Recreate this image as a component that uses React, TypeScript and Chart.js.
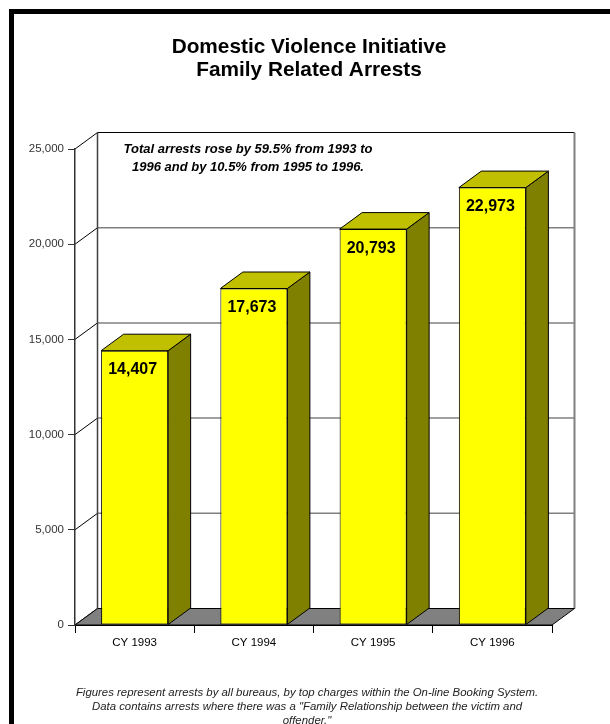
import React, { useEffect, useRef } from "react";
import { Chart, registerables } from "chart.js";

Chart.register(...registerables);

const categories = ["CY 1993", "CY 1994", "CY 1995", "CY 1996"];
const arrests = [14407, 17673, 20793, 22973];
const yTickValues = [0, 5000, 10000, 15000, 20000, 25000];
const titleLines = ["Domestic Violence Initiative", "Family Related Arrests"];
const noteLines = [
  "Total arrests rose by 59.5% from 1993 to",
  "1996 and by 10.5% from 1995 to 1996.",
];
const footnoteLines = [
  "Figures represent arrests by all bureaus, by top charges within the On-line Booking System.",
  "Data contains arrests where there was a \"Family Relationship between the victim and",
  "offender.\"",
];

const FONT = "'Liberation Sans', Arial, Helvetica, sans-serif";
const DX = 22.5;
const DY = -16.5;

const fmt = (v: number) => v.toLocaleString("en-US");

const threeD = {
  id: "threeD",
  beforeDraw(chart: any) {
    const ctx = chart.ctx;
    const { left, right, top, bottom } = chart.chartArea;
    const ys = chart.scales.y;
    ctx.save();
    ctx.fillStyle = "#ffffff";
    ctx.fillRect(0, 0, chart.width, chart.height);
    // outer frame
    ctx.fillStyle = "#000";
    ctx.fillRect(9, 9, 5, chart.height);
    ctx.fillRect(9, 9, chart.width, 5);

    // back wall grid lines and side-wall diagonals
    yTickValues.forEach((v) => {
      const yf = ys.getPixelForValue(v);
      const isTop = v === yTickValues[yTickValues.length - 1];
      if (v !== 0) {
        ctx.beginPath();
        ctx.moveTo(left + DX, yf + DY);
        ctx.lineTo(right + DX, yf + DY);
        ctx.strokeStyle = isTop ? "#000" : "#808080";
        ctx.lineWidth = isTop ? 1 : 1.5;
        ctx.stroke();
      }
      ctx.beginPath();
      ctx.moveTo(left, yf);
      ctx.lineTo(left + DX, yf + DY);
      ctx.strokeStyle = "#000";
      ctx.lineWidth = 1;
      ctx.stroke();
    });
    // back-left vertical
    ctx.beginPath();
    ctx.moveTo(left + DX, top + DY);
    ctx.lineTo(left + DX, bottom + DY);
    ctx.strokeStyle = "#404040";
    ctx.lineWidth = 1.5;
    ctx.stroke();
    // back-right vertical
    ctx.beginPath();
    ctx.moveTo(right + DX, top + DY);
    ctx.lineTo(right + DX, bottom + DY);
    ctx.strokeStyle = "#808080";
    ctx.lineWidth = 2;
    ctx.stroke();
    // floor
    ctx.beginPath();
    ctx.moveTo(left, bottom);
    ctx.lineTo(right, bottom);
    ctx.lineTo(right + DX, bottom + DY);
    ctx.lineTo(left + DX, bottom + DY);
    ctx.closePath();
    ctx.fillStyle = "#808080";
    ctx.fill();
    ctx.strokeStyle = "#000";
    ctx.lineWidth = 1;
    ctx.stroke();
    ctx.restore();
  },
  beforeDatasetsDraw(chart: any) {
    const ctx = chart.ctx;
    const meta = chart.getDatasetMeta(0);
    ctx.save();
    ctx.strokeStyle = "#000";
    ctx.lineWidth = 1;
    meta.data.forEach((bar: any) => {
      const p = bar.getProps(["x", "y", "base", "width"], true);
      const l = p.x - p.width / 2;
      const r = p.x + p.width / 2;
      const t = p.y;
      const b = p.base;
      // side face
      ctx.beginPath();
      ctx.moveTo(r, t);
      ctx.lineTo(r + DX, t + DY);
      ctx.lineTo(r + DX, b + DY);
      ctx.lineTo(r, b);
      ctx.closePath();
      ctx.fillStyle = "#808000";
      ctx.fill();
      ctx.stroke();
      // top face
      ctx.beginPath();
      ctx.moveTo(l, t);
      ctx.lineTo(l + DX, t + DY);
      ctx.lineTo(r + DX, t + DY);
      ctx.lineTo(r, t);
      ctx.closePath();
      ctx.fillStyle = "#C0C000";
      ctx.fill();
      ctx.stroke();
    });
    ctx.restore();
  },
  afterDraw(chart: any) {
    const ctx = chart.ctx;
    const meta = chart.getDatasetMeta(0);
    ctx.save();
    ctx.textAlign = "center";
    ctx.textBaseline = "middle";
    // bar value labels
    ctx.fillStyle = "#000";
    ctx.font = `bold 16px ${FONT}`;
    meta.data.forEach((bar: any, i: number) => {
      const p = bar.getProps(["x", "y"], true);
      ctx.fillText(fmt(arrests[i]), p.x - 2, p.y + 19);
    });
    // title
    ctx.font = `bold 20.8px ${FONT}`;
    titleLines.forEach((s, i) => ctx.fillText(s, 309, 47 + i * 23.5));
    // annotation
    ctx.font = `italic bold 13px ${FONT}`;
    noteLines.forEach((s, i) => ctx.fillText(s, 248, 149 + i * 18));
    // footnote
    ctx.fillStyle = "#222";
    ctx.font = `italic 11.4px ${FONT}`;
    footnoteLines.forEach((s, i) => ctx.fillText(s, 307, 693 + i * 14));
    ctx.restore();
  },
};

export default function App() {
  const ref = useRef<HTMLCanvasElement | null>(null);
  useEffect(() => {
    document.body.style.margin = "0";
    const canvas = ref.current;
    if (!canvas) return;
    const chart = new Chart(canvas, {
      type: "bar",
      data: {
        labels: categories,
        datasets: [
          {
            data: arrests,
            backgroundColor: "#FFFF00",
            borderColor: "#000",
            borderWidth: 1,
            borderSkipped: false,
            barPercentage: 0.562,
            categoryPercentage: 1,
          },
        ],
      },
      options: {
        responsive: false,
        animation: false,
        devicePixelRatio: 1,
        layout: { padding: { top: 149, right: 58, left: 0, bottom: 0 } },
        plugins: {
          legend: { display: false },
          tooltip: { enabled: false },
          title: { display: false },
        },
        scales: {
          x: {
            type: "category",
            offset: true,
            grid: {
              display: true,
              offset: true,
              drawOnChartArea: false,
              drawTicks: true,
              tickLength: 8,
              color: "#000",
              lineWidth: 1,
            },
            border: { display: true, color: "#000", width: 1 },
            ticks: {
              color: "#000",
              font: { family: FONT, size: 11.5 },
              padding: 3,
              maxRotation: 0,
            },
            afterFit: (s: any) => {
              s.height = 99;
            },
          },
          y: {
            min: 0,
            max: 25000,
            afterBuildTicks: (s: any) => {
              s.ticks = yTickValues.map((v) => ({ value: v }));
            },
            grid: {
              display: true,
              drawOnChartArea: false,
              drawTicks: true,
              tickLength: 7,
              color: "#333",
              lineWidth: 1,
            },
            border: { display: true, color: "#333", width: 1.5 },
            ticks: {
              color: "#333",
              font: { family: FONT, size: 11.5 },
              padding: 4,
              callback: (v: any) => fmt(Number(v)),
            },
            afterFit: (s: any) => {
              s.width = 75;
            },
          },
        },
      },
      plugins: [threeD],
    });
    return () => chart.destroy();
  }, []);
  return (
    <div style={{ width: 610, height: 724 }}>
      <canvas ref={ref} width={610} height={724} style={{ display: "block" }} />
    </div>
  );
}
